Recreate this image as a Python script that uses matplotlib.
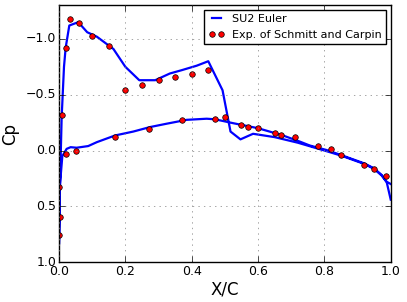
import matplotlib
matplotlib.use("Agg")
import matplotlib.pyplot as plt
import numpy as np

# SU2 Euler, upper surface (LE -> TE)
up_x = [0.0, 0.003, 0.008, 0.015, 0.02, 0.031, 0.058, 0.085, 0.114, 0.164, 0.2, 0.242,
        0.29, 0.334, 0.37, 0.415, 0.45, 0.493, 0.517, 0.547, 0.585, 0.65, 0.72, 0.8,
        0.85, 0.92, 0.95, 0.973, 0.988, 1.0]
up_cp = [0.84, 0.3, -0.3, -0.75, -0.92, -1.12, -1.15, -1.06, -1.02, -0.91, -0.75, -0.63,
         -0.63, -0.69, -0.72, -0.76, -0.80, -0.54, -0.17, -0.10, -0.15, -0.12, -0.07, 0.0,
         0.045, 0.12, 0.165, 0.225, 0.285, 0.44]
# SU2 Euler, lower surface (LE -> TE)
lo_x = [0.0, 0.003, 0.01, 0.023, 0.035, 0.053, 0.088, 0.114, 0.169, 0.224, 0.274, 0.324,
        0.385, 0.445, 0.47, 0.525, 0.6, 0.675, 0.726, 0.756, 0.806, 0.85, 0.92, 0.95,
        0.973, 0.988, 1.0]
lo_cp = [0.84, 0.3, 0.05, -0.015, -0.03, -0.025, -0.04, -0.075, -0.135, -0.17, -0.21, -0.24,
         -0.275, -0.285, -0.28, -0.245, -0.2, -0.135, -0.08, -0.045, -0.005, 0.04, 0.115, 0.16,
         0.22, 0.28, 0.30]

# experiment
exp_x = [0.0, 0.003, 0.008, 0.02, 0.034, 0.06, 0.10, 0.15, 0.20, 0.25, 0.30, 0.35, 0.40, 0.45,
         0.0, 0.02, 0.05, 0.17, 0.27, 0.37, 0.47, 0.50, 0.549, 0.57, 0.60, 0.65, 0.67, 0.71,
         0.78, 0.82, 0.85, 0.92, 0.95, 0.985]
exp_cp = [0.76, 0.60, -0.32, -0.92, -1.18, -1.14, -1.03, -0.94, -0.54, -0.59, -0.63, -0.66, -0.69, -0.72,
          0.33, 0.03, 0.0, -0.12, -0.19, -0.27, -0.28, -0.30, -0.23, -0.21, -0.20, -0.16, -0.14, -0.12,
          -0.045, -0.015, 0.04, 0.13, 0.165, 0.23]

plt.style.use("classic")
plt.rcParams["figure.facecolor"] = "white"
plt.rcParams["savefig.facecolor"] = "white"

fig = plt.figure(figsize=(4.07, 3.02), dpi=100)
ax = fig.add_axes([0.145, 0.132, 0.815, 0.85])

line_x = lo_x[::-1] + up_x
line_cp = lo_cp[::-1] + up_cp
ax.plot(line_x, line_cp, color="blue", lw=1.6, label="SU2 Euler")
ax.plot(exp_x, exp_cp, "o", color="red", mec="black", mew=0.5, ms=4,
        label="Exp. of Schmitt and Carpin")

ax.set_xlim(0, 1)
ax.set_ylim(1.0, -1.3)
ax.set_xticks(np.arange(0, 1.01, 0.2))
ax.set_yticks([-1.0, -0.5, 0.0, 0.5, 1.0])
ax.tick_params(labelsize=9, pad=2)
ax.grid(True, ls=":", color="gray")
ax.set_xlabel("X/C", fontsize=12, labelpad=2)
ax.set_ylabel("Cp", fontsize=12)
ax.legend(loc="upper right", fontsize=8, numpoints=2, borderaxespad=0.4,
          handlelength=1.4, handletextpad=0.7)

fig.savefig("out.png", dpi=100)
